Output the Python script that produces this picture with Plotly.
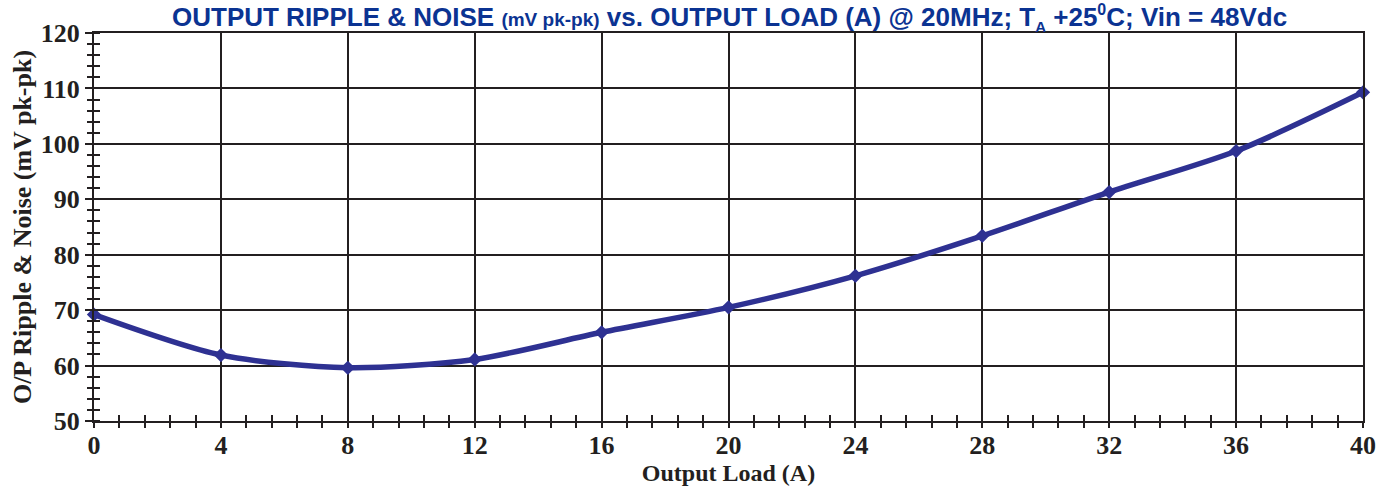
import plotly.graph_objects as go

load_a = [0, 4, 8, 12, 16, 20, 24, 28, 32, 36, 40]
ripple_mv = [69.2, 61.9, 59.6, 61.1, 66.0, 70.5, 76.2, 83.4, 91.3, 98.7, 109.3]
x_ticks = [0, 4, 8, 12, 16, 20, 24, 28, 32, 36, 40]
y_ticks = [50, 60, 70, 80, 90, 100, 110, 120]

LINE = "#2e3192"
GRID = "#231f20"
TITLE = "#0b3392"

fig = go.Figure()
fig.add_trace(go.Scatter(
    x=load_a, y=ripple_mv, mode="lines+markers",
    line=dict(color=LINE, width=5.5, shape="spline", smoothing=0.8),
    marker=dict(symbol="diamond", size=11, color=LINE),
    showlegend=False, cliponaxis=False,
))
fig.add_trace(go.Scatter(x=[load_a[0]], y=[ripple_mv[0]], xaxis="x2", yaxis="y2",
                         mode="markers", marker=dict(opacity=0), showlegend=False, hoverinfo="skip"))

tickfont = dict(family="Liberation Serif, Times New Roman, serif", size=26, color=GRID)
xtitlefont = dict(family="Liberation Serif, Times New Roman, serif", size=24, color=GRID)
ytitlefont = dict(family="Liberation Serif, Times New Roman, serif", size=26, color=GRID)

fig.update_layout(
    width=1395, height=489,
    margin=dict(l=94, r=32, t=33, b=68),
    plot_bgcolor="white", paper_bgcolor="white",
    title=dict(
        text="<b>OUTPUT RIPPLE &amp; NOISE <span style='font-size:19px'>(mV pk-pk)</span> vs. OUTPUT LOAD (A) @ 20MHz; T<sub><span style='font-size:15px'>A</span></sub> +25<sup><span style='font-size:16px'>0</span></sup>C; Vin = 48Vdc</b>",
        font=dict(family="Liberation Sans Narrow, Arial Narrow, Liberation Sans, Arial, sans-serif", size=26, color=TITLE),
        x=0.523, xanchor="center", y=0.965, yanchor="middle",
    ),
    xaxis=dict(
        range=[0, 40], tickvals=x_ticks, ticktext=[f"<b>{v}</b>" for v in x_ticks],
        tickfont=tickfont, showgrid=True, gridcolor=GRID, gridwidth=2,
        showline=True, linecolor=GRID, linewidth=2, mirror=True,
        ticks="inside", ticklen=0, zeroline=False, automargin=False,
        minor=dict(dtick=0.8, ticks="inside", ticklen=6, tickwidth=1.5, tickcolor=GRID, showgrid=False),
        title=dict(text="<b>Output Load (A)</b>", font=xtitlefont, standoff=4),
    ),
    yaxis=dict(
        range=[50, 120], tickvals=y_ticks, ticktext=[f"<b>{v}</b>" for v in y_ticks],
        tickfont=tickfont, showgrid=True, gridcolor=GRID, gridwidth=2,
        showline=True, linecolor=GRID, linewidth=2, mirror=True,
        ticks="outside", ticklen=7, tickwidth=2, tickcolor=GRID, zeroline=False, automargin=False,
        minor=dict(dtick=2, ticks="inside", ticklen=6, tickwidth=1.5, tickcolor=GRID, showgrid=False),
        title=dict(text="<b>O/P Ripple &amp; Noise (mV pk-pk)</b>", font=ytitlefont, standoff=2),
    ),
    xaxis2=dict(
        range=[0, 40], overlaying="x", side="bottom", anchor="y2", automargin=False,
        showticklabels=False, showgrid=False, zeroline=False, showline=False,
        tickvals=x_ticks, ticks="outside", ticklen=0,
        minor=dict(dtick=0.8, ticks="outside", ticklen=6, tickwidth=1.5, tickcolor=GRID, showgrid=False),
    ),
    yaxis2=dict(
        range=[50, 120], overlaying="y", side="left", anchor="x2", automargin=False,
        showticklabels=False, showgrid=False, zeroline=False, showline=False,
        tickvals=y_ticks, ticks="outside", ticklen=0,
        minor=dict(dtick=2, ticks="outside", ticklen=6, tickwidth=1.5, tickcolor=GRID, showgrid=False),
    ),
)

fig.write_html("out.html", config={"displayModeBar": False},
               post_script="document.body.style.margin='0';document.body.style.overflow='hidden';")
